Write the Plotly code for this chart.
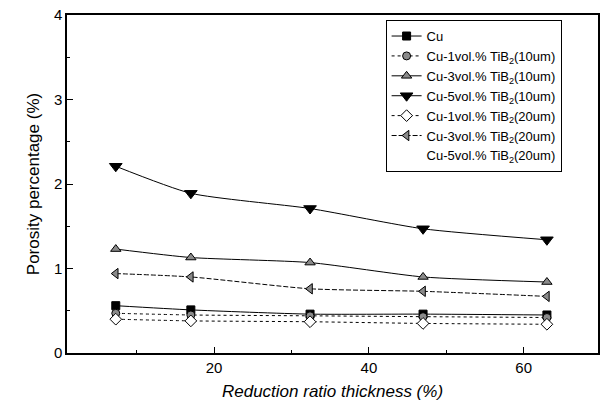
import plotly.graph_objects as go

# Reduction ratio in thickness (%) for each rolling pass
reduction = [7.3, 17, 32.4, 47, 63]

# Porosity percentage (%) of each composition
cu = [0.56, 0.51, 0.46, 0.46, 0.45]
cu_1_10 = [0.47, 0.45, 0.44, 0.43, 0.42]
cu_3_10 = [1.23, 1.13, 1.07, 0.90, 0.84]
cu_5_10 = [2.21, 1.89, 1.71, 1.47, 1.34]
cu_1_20 = [0.40, 0.38, 0.37, 0.35, 0.34]
cu_3_20 = [0.94, 0.90, 0.76, 0.73, 0.67]

names = [
    "Cu",
    "Cu-1vol.% TiB<sub>2</sub>(10um)",
    "Cu-3vol.% TiB<sub>2</sub>(10um)",
    "Cu-5vol.% TiB<sub>2</sub>(10um)",
    "Cu-1vol.% TiB<sub>2</sub>(20um)",
    "Cu-3vol.% TiB<sub>2</sub>(20um)",
    "Cu-5vol.% TiB<sub>2</sub>(20um)",
]

x_ticks = [20, 40, 60]
y_ticks = [0, 1, 2, 3, 4]

FONT = "Liberation Sans, Arial, sans-serif"
GRAY = "#8a8a8a"

styles = [
    dict(values=cu, dash="solid", symbol="square", size=8, fill="black"),
    dict(values=cu_1_10, dash="dot", symbol="circle", size=8, fill=GRAY),
    dict(values=cu_3_10, dash="solid", symbol="triangle-up", size=9, fill=GRAY),
    dict(values=cu_5_10, dash="solid", symbol="triangle-down", size=11, fill="black"),
    dict(values=cu_1_20, dash="dot", symbol="diamond", size=9, fill="white"),
    dict(values=cu_3_20, dash="5px,2px", symbol="triangle-left", size=9, fill=GRAY),
]

fig = go.Figure()
for name, st in zip(names, styles):
    fig.add_trace(go.Scatter(
        x=reduction, y=st["values"], name=name,
        mode="lines+markers",
        line=dict(color="black", width=1, dash=st["dash"], shape="spline", smoothing=0.6),
        marker=dict(symbol=st["symbol"], size=st["size"], color=st["fill"],
                    line=dict(color="black", width=1)),
    ))

# legend entry without a drawn series
fig.add_trace(go.Scatter(
    x=[None], y=[None], name=names[6], mode="lines",
    line=dict(color="rgba(0,0,0,0)", width=1),
))

axis_common = dict(
    showline=True, linecolor="black", linewidth=1.5, mirror=True,
    ticks="inside", tickcolor="black", tickwidth=1, ticklen=6,
    showgrid=False, zeroline=False,
    tickfont=dict(family=FONT, size=15, color="black"),
)

fig.update_xaxes(
    range=[1, 69.6], tickvals=x_ticks,
    minor=dict(ticks="inside", tickvals=[10, 30, 50], ticklen=3, tickcolor="black"),
    title=dict(text="<i>Reduction ratio thickness (%)</i>",
               font=dict(family=FONT, size=17, color="black"), standoff=10),
    **axis_common,
)
fig.update_yaxes(
    range=[0, 4], tickvals=y_ticks,
    minor=dict(ticks="inside", dtick=0.5, ticklen=3, tickcolor="black"),
    title=dict(text="Porosity percentage (%)",
               font=dict(family=FONT, size=17, color="black"), standoff=10),
    **axis_common,
)

fig.update_layout(
    width=605, height=407,
    margin=dict(l=67, r=5, t=15, b=54),
    paper_bgcolor="white", plot_bgcolor="white",
    font=dict(family=FONT, color="black"),
    legend=dict(
        x=0.60, y=0.985, xanchor="left", yanchor="top",
        bgcolor="white", bordercolor="black", borderwidth=1,
        font=dict(family=FONT, size=13, color="black"),
        tracegroupgap=0, itemwidth=30,
    ),
)

fig.write_html("out.html")
